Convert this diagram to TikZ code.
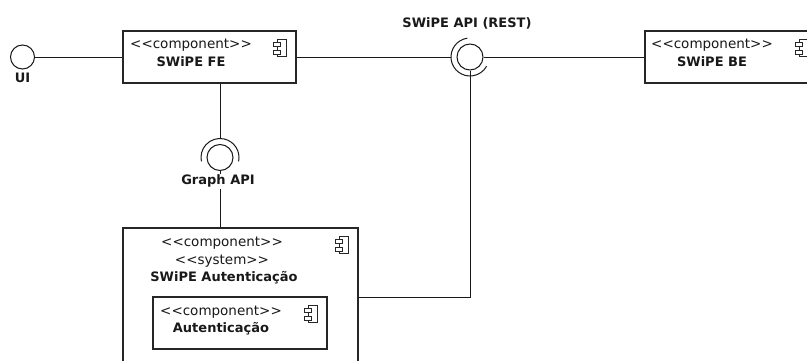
\documentclass[tikz,border=0pt]{standalone}
\usepackage{fontspec}
\setmainfont{DejaVu Sans}
\usetikzlibrary{calc}
\begin{document}
\begin{tikzpicture}[x=1pt,y=1pt,
  box/.style={draw=black!85, line width=1.1pt, fill=white, inner sep=0pt},
  wire/.style={draw=black!90, line width=1pt},
  ball/.style={draw=black!90, line width=1pt, circle, inner sep=0pt, fill=white},
  stereo/.style={font=\fontsize{13.5}{15}\selectfont, text=black!90, inner sep=0pt,
                 text height=9.5pt, text depth=2.5pt},
  title/.style={font=\bfseries\fontsize{13}{15}\selectfont, text=black!90, inner sep=0pt,
                text height=9.5pt, text depth=2.5pt},
  compicon/.pic={
    \draw[line width=1pt, black!85] (-3,-8.5) rectangle (6,8.5);
    \draw[line width=1pt, black!85, fill=white] (-7,2) rectangle (0,6);
    \draw[line width=1pt, black!85, fill=white] (-7,-6) rectangle (0,-2);
  },
]
\useasboundingbox (0,0) rectangle (807,360);
\clip (0,0) rectangle (807,360);

% components
\node[box, minimum width=173pt, minimum height=52pt] (fe) at (209.5,303) {};
\node[box, minimum width=173pt, minimum height=52pt] (be) at (731.5,303) {};
\node[box, minimum width=235pt, minimum height=138pt] (auth) at (240.5,63) {};
\node[box, minimum width=174pt, minimum height=52pt] (authin) at (240,37) {};

\pic at ($(fe.north east)+(-16,-18)$) {compicon};
\pic at ($(be.north east)+(-16,-18)$) {compicon};
\pic at ($(auth.north east)+(-16,-18)$) {compicon};
\pic at ($(authin.north east)+(-16,-18)$) {compicon};

% component texts
\node[stereo] (fest) at (191,315) {<{}<component>{}>};
\node[title]  (fenm) at (191,297) {SWiPE FE};
\node[stereo] (best) at (712,315) {<{}<component>{}>};
\node[title]  (benm) at (712,297) {SWiPE BE};
\node[stereo] (ast1) at (222,117) {<{}<component>{}>};
\node[stereo] (ast2) at (222,99) {<{}<system>{}>};
\node[title]  (anm)  at (224,82) {SWiPE Autenticação};
\node[stereo] (ist)  at (221,48.5) {<{}<component>{}>};
\node[title]  (inm)  at (221,31) {Autenticação};

% UI interface
\node[ball, minimum size=24pt] (ui) at (22.5,303) {};
\node[title] (uilbl) at (22.5,281) {UI};
\draw[wire] (ui) -- (fe.west);

% REST interface (ball and socket)
\node[ball, minimum size=26pt] (rest) at (470,303) {};
\coordinate (restsock) at ($(rest.center)+(180:19)$);
\draw[wire] ($(rest.center)+(98:19)$) arc[start angle=98, end angle=331, radius=19pt];
\node[title] (restlbl) at (467,336) {SWiPE API (REST)};
\draw[wire] (fe.east) -- (restsock);
\draw[wire] (rest.east) -- (be.west);
\draw[wire] (rest.south) |- (auth.east);

% Graph API interface (ball and socket)
\node[ball, minimum size=26pt] (graph) at (220,202.5) {};
\coordinate (graphsock) at ($(graph.center)+(90:19)$);
\draw[wire] ($(graph.center)+(-12:19)$) arc[start angle=-12, end angle=192, radius=19pt];
\draw[wire] (fe.south -| graph.center) -- (graphsock);
\draw[wire] (graph.south) -- (auth.north -| graph.center);
\node[title, fill=white, inner sep=1.5pt] (graphlbl) at (218,179) {Graph API};
\end{tikzpicture}
\end{document}
